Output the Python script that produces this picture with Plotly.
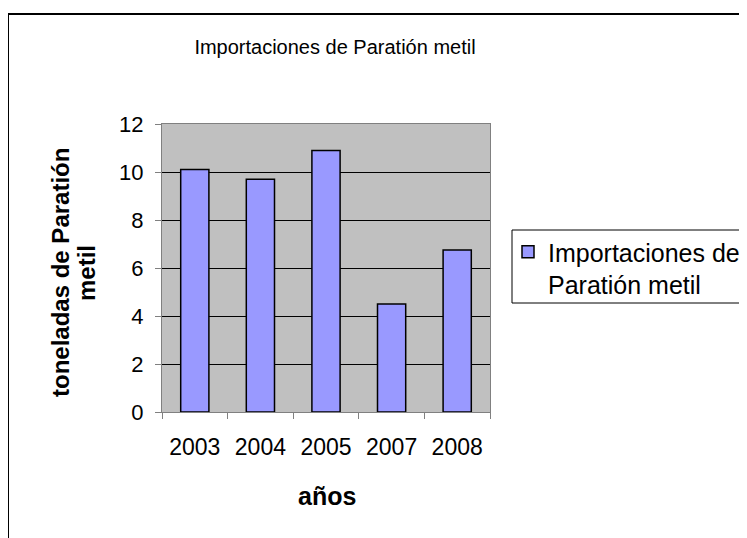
import plotly.graph_objects as go

years = ["2003", "2004", "2005", "2007", "2008"]
toneladas = [10.1, 9.7, 10.9, 4.5, 6.75]
series_name = "Importaciones de<br>Paratión metil"
title_text = "Importaciones de Paratión metil"
y_title_lines = ["toneladas de Paratión", "metil"]
x_title = "años"
y_ticks = [0, 2, 4, 6, 8, 10, 12]

# page has an 8px body margin; work in page pixels and convert
OFF = 8
W, H = 747 - OFF, 538 - OFF
# plot area in page pixels: x 162..490, y 124..412
PL, PR, PT, PB = 162, 490, 124, 412
L, T = PL - OFF, PT - OFF
R, B = W - (PR - OFF), H - (PB - OFF)
pw, ph = PR - PL, PB - PT

def px_x(px):
    return (px - PL) / pw

def px_y(py):
    return (PB - py) / ph

FONT = "Arial, Liberation Sans, sans-serif"

fig = go.Figure()
fig.add_trace(go.Bar(
    x=years, y=toneladas, name=series_name,
    marker=dict(color="#9999FF", line=dict(color="black", width=1.5)),
    showlegend=True,
))

fig.update_layout(
    width=W, height=H,
    margin=dict(l=L, r=R, t=T, b=B, autoexpand=False),
    paper_bgcolor="white",
    plot_bgcolor="#C0C0C0",
    bargap=0.57,
    font=dict(family=FONT, color="black"),
    title=dict(text=title_text, x=px_x(335), xref="paper", xanchor="center",
               y=1 - (47 - OFF) / H, yref="container", yanchor="middle",
               font=dict(size=20, family=FONT, color="black")),
    showlegend=True,
    legend=dict(x=px_x(508), y=px_y(229), xanchor="left", yanchor="top",
                bgcolor="rgba(0,0,0,0)", borderwidth=0, valign="top",
                font=dict(size=25, family=FONT, color="black"),
                tracegroupgap=0),
    xaxis=dict(type="category", showline=True, linecolor="#808080", linewidth=1,
               mirror=True, ticks="outside", tickson="boundaries", ticklen=6,
               tickcolor="#808080", tickfont=dict(size=23), showgrid=False,
               zeroline=False, ticklabelstandoff=14),
    yaxis=dict(range=[0, 12], tickvals=y_ticks, showline=True, linecolor="#808080",
               linewidth=1, mirror=True, ticks="outside", ticklen=6,
               tickcolor="#808080", tickfont=dict(size=22), showgrid=True,
               gridcolor="black", gridwidth=1, zeroline=False,
               ticklabelstandoff=7),
)

for line_text, cx in zip(y_title_lines, [60, 86]):
    fig.add_annotation(text="<b>" + line_text + "</b>", textangle=-90,
                       x=px_x(cx), y=px_y(273),
                       xref="paper", yref="paper", xanchor="center", yanchor="middle",
                       showarrow=False, font=dict(size=24, family=FONT, color="black"))

fig.add_annotation(text="<b>" + x_title + "</b>", x=px_x(327), y=px_y(496),
                   xref="paper", yref="paper", xanchor="center", yanchor="middle",
                   showarrow=False, font=dict(size=25, family=FONT, color="black"))

# chart-area border
fig.add_shape(type="rect", xref="paper", yref="paper",
              x0=px_x(8), x1=px_x(770), y0=px_y(570), y1=px_y(14),
              line=dict(color="black", width=2), fillcolor="rgba(0,0,0,0)",
              layer="below")
# legend box
fig.add_shape(type="rect", xref="paper", yref="paper",
              x0=px_x(512), x1=px_x(770), y0=px_y(303), y1=px_y(230),
              line=dict(color="black", width=1), fillcolor="white",
              layer="below")

fig.write_html("out.html")
